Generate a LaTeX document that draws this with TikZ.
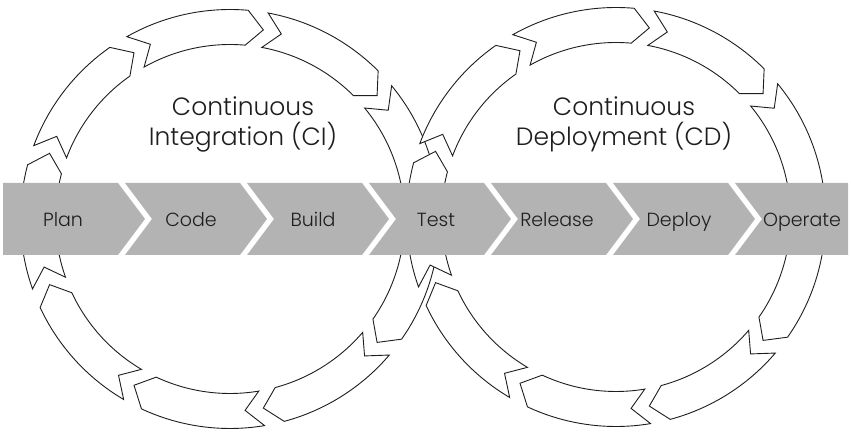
\documentclass[tikz,border=0pt]{standalone}
\usepackage{fontspec}
\setmainfont{Poppins}[UprightFont=* Light]
\usetikzlibrary{positioning}
\definecolor{bandgray}{RGB}{179,179,179}
\definecolor{inkgray}{RGB}{30,30,30}

\tikzset{
  ring/.style={draw=inkgray, fill=white, line width=0.9pt, line join=miter},
  chev/.style={fill=bandgray},
  steplabel/.style={font=\fontsize{19}{23}\selectfont, text=inkgray, anchor=base},
  looptitle/.style={font=\fontsize{25}{30}\selectfont, text=inkgray, align=center},
}

\begin{document}
\begin{tikzpicture}[x=1pt,y=1pt]
\useasboundingbox (0,0) rectangle (851,433);
% two loops of nine arc arrows, the right one over the left one
\foreach \cx/\cy in {230/214, 616/216}{
  \foreach \k in {0,...,8}{
    \pgfmathsetmacro{\ta}{119.5-40*\k}
    \pgfmathsetmacro{\tb}{\ta-34.5}
    \pgfmathsetmacro{\tn}{\ta-5}
    \pgfmathsetmacro{\tp}{\tb-5}
    \draw[ring,shift={(\cx,\cy)}] (\ta:209.5) arc[start angle=\ta, end angle=\tb, radius=209.5]
      -- (\tp:192) -- (\tb:174.5) arc[start angle=\tb, end angle=\ta, radius=174.5]
      -- (\tn:192) -- cycle;
  }
}
% the band of steps
\fill[white] (0,178) rectangle (851,250);
\fill[chev] (3,250) -- (118,250) -- (145,214) -- (118,178) -- (3,178) -- cycle;
\foreach \x in {125,247,369,491,613}
  \fill[chev] (\x,250) -- ++(115,0) -- ++(27,-36) -- ++(-27,-36) -- ++(-115,0) -- ++(27,36) -- cycle;
\fill[chev] (735,250) -- (848,250) -- (848,178) -- (735,178) -- (762,214) -- cycle;

\node[steplabel] (plan) at (63,206) {Plan};
\node[steplabel] (code) at (191,206) {Code};
\node[steplabel] (build) at (313,206) {Build};
\node[steplabel] (test) at (436,206) {Test};
\node[steplabel] (release) at (557,206) {Release};
\node[steplabel] (deploy) at (679,206) {Deploy};
\node[steplabel] (operate) at (802,206) {Operate};

\node[looptitle] (ci) at (243,309) {Continuous\\Integration (CI)};
\node[looptitle] (cd) at (624,309) {Continuous\\Deployment (CD)};
\end{tikzpicture}
\end{document}
